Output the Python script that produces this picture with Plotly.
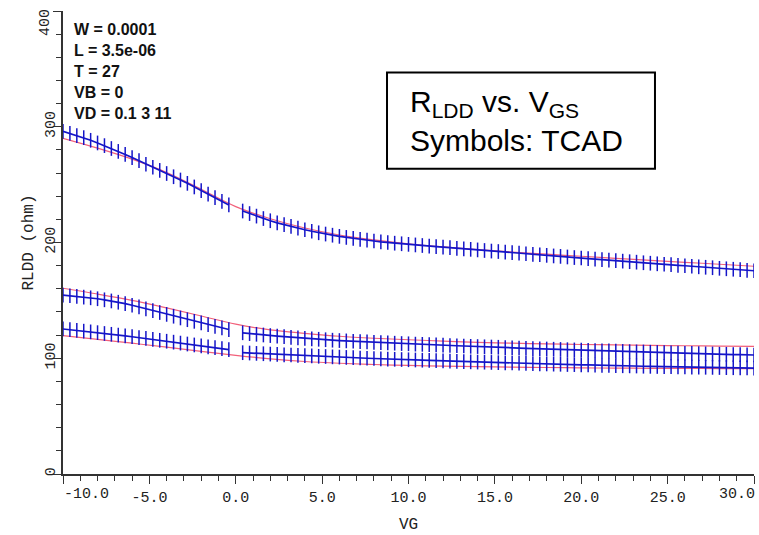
import plotly.graph_objects as go

# ---------------- data ----------------
VG = [round(-10 + 0.4 * i, 1) for i in range(101)]          # TCAD sample grid (V)
VG_MODEL = list(range(-10, 31, 2))                           # model curve grid (V)

TOP_TCAD = [
    296.0, 294.2, 292.4, 290.6, 288.3, 286.0, 283.7, 281.2, 278.7, 276.1,
    273.4, 270.7, 267.6, 265.0, 262.3, 259.6, 256.8, 254.0, 251.1, 248.0,
    244.9, 241.8, 238.7, 235.6, 232.5, None, 227.2, 225.0, 222.8, 220.7,
    218.8, 217.0, 215.4, 213.9, 212.4, 211.0, 209.7, 208.4, 207.3, 206.3,
    205.3, 204.4, 203.5, 202.7, 202.0, 201.3, 200.6, 200.0, 199.4, 198.9,
    198.4, 197.9, 197.4, 196.9, 196.4, 196.0, 195.5, 195.0, 194.5, 194.1,
    193.6, 193.1, 192.6, 192.2, 191.7, 191.3, 190.8, 190.3, 189.8, 189.4,
    188.9, 188.4, 188.0, 187.5, 187.0, 186.6, 186.1, 185.7, 185.2, 184.8,
    184.3, 183.9, 183.4, 183.0, 182.5, 182.1, 181.6, 181.2, 180.8, 180.3,
    179.9, 179.5, 179.0, 178.6, 178.2, 177.7, 177.3, 176.9, 176.5, 176.0,
    175.6]
MID_TCAD = [
    154.5, 154.0, 153.4, 152.8, 152.2, 151.4, 150.5, 149.5, 148.4, 147.2,
    145.8, 144.3, 142.7, 141.1, 139.5, 137.9, 136.3, 134.8, 133.3, 131.9,
    130.5, 129.0, 127.6, 126.2, 124.8, None, 122.0, 121.3, 120.7, 120.1,
    119.6, 119.1, 118.6, 118.1, 117.6, 117.2, 116.8, 116.4, 116.0, 115.6,
    115.3, 115.0, 114.7, 114.4, 114.1, 113.8, 113.5, 113.2, 113.0, 112.7,
    112.5, 112.2, 112.0, 111.7, 111.5, 111.3, 111.0, 110.8, 110.6, 110.3,
    110.1, 109.9, 109.7, 109.5, 109.2, 109.0, 108.8, 108.6, 108.4, 108.2,
    108.0, 107.8, 107.6, 107.4, 107.2, 107.0, 106.8, 106.6, 106.4, 106.3,
    106.1, 105.9, 105.7, 105.5, 105.4, 105.2, 105.0, 104.8, 104.7, 104.5,
    104.3, 104.2, 104.0, 103.8, 103.7, 103.5, 103.4, 103.2, 103.1, 102.9,
    102.8]
LOW_TCAD = [
    125.3, 124.7, 124.1, 123.4, 122.8, 122.1, 121.4, 120.7, 120.0, 119.3,
    118.6, 117.8, 117.1, 116.3, 115.5, 114.7, 113.9, 113.1, 112.3, 111.5,
    110.7, 109.9, 109.1, 108.3, 107.5, None, 104.8, 104.5, 104.2, 103.9,
    103.6, 103.3, 103.0, 102.8, 102.5, 102.2, 102.0, 101.7, 101.5, 101.2,
    101.0, 100.7, 100.5, 100.2, 100.0, 99.8, 99.5, 99.3, 99.1, 98.9,
    98.7, 98.5, 98.3, 98.1, 97.9, 97.7, 97.5, 97.3, 97.1, 96.9,
    96.7, 96.6, 96.4, 96.2, 96.0, 95.9, 95.7, 95.5, 95.4, 95.2,
    95.1, 94.9, 94.8, 94.6, 94.5, 94.3, 94.2, 94.0, 93.9, 93.8,
    93.6, 93.5, 93.4, 93.3, 93.1, 93.0, 92.9, 92.8, 92.7, 92.6,
    92.5, 92.4, 92.3, 92.2, 92.1, 92.0, 91.9, 91.8, 91.7, 91.6,
    91.5]

TOP_MODEL = [290.0, 281.5, 272.0, 260.5, 246.0, 231.0, 220.5, 212.5, 206.5, 202.3, 198.9,
             196.2, 193.9, 191.8, 189.9, 188.1, 186.3, 184.6, 182.9, 181.2, 179.5]
MID_MODEL = [160.5, 155.5, 150.0, 143.5, 136.5, 129.5, 124.5, 121.5, 119.0, 117.3, 116.0,
             114.8, 113.8, 113.0, 112.4, 111.9, 111.5, 111.1, 110.8, 110.5, 110.3]
LOW_MODEL = [119.6, 116.3, 113.0, 109.6, 106.0, 102.5, 99.5, 97.2, 95.7, 94.6, 93.8,
             93.2, 92.7, 92.3, 92.0, 91.7, 91.5, 91.3, 91.2, 91.1, 91.0]

X_TICKVALS = [-10, -5, 0, 5, 10, 15, 20, 25, 30]
X_TICKTEXT = ["", "-5.0", "0.0", "5.0", "10.0", "15.0", "20.0", "25.0", ""]
Y_TICKVALS = [0, 100, 200, 300, 400]
Y_TICKTEXT = ["0", "100", "200", "300", ""]

INFO_LINES = ["W = 0.0001", "L = 3.5e-06", "T = 27", "VB = 0", "VD = 0.1 3 11"]

assert len(TOP_TCAD) == len(MID_TCAD) == len(LOW_TCAD) == len(VG)
assert len(TOP_MODEL) == len(MID_MODEL) == len(LOW_MODEL) == len(VG_MODEL)

# ---------------- styles ----------------
BLUE = "#1515c8"
RED = "#f2607a"
AX = "#333333"
MONO = "Liberation Mono, Courier New, monospace"

fig = go.Figure()

for ys in (TOP_MODEL, MID_MODEL, LOW_MODEL):
    fig.add_trace(go.Scatter(x=VG_MODEL, y=ys, mode="lines", line=dict(color=RED, width=1.2, shape="spline"),
                             showlegend=False, hoverinfo="skip"))

for ys in (TOP_TCAD, MID_TCAD, LOW_TCAD):
    fig.add_trace(go.Scatter(x=VG, y=ys, mode="lines+markers",
                             line=dict(color=BLUE, width=1.7),
                             marker=dict(symbol="line-ns", size=10.5, color=BLUE,
                                         line=dict(color=BLUE, width=1.5)),
                             connectgaps=False, showlegend=False, hoverinfo="skip"))

common_x = dict(range=[-10, 30], showgrid=False, zeroline=False, showline=True,
                linecolor=AX, linewidth=1.5)
common_y = dict(range=[0, 400], showgrid=False, zeroline=False, showline=True,
                linecolor=AX, linewidth=1.5)

fig.update_layout(
    width=759, height=535,
    margin=dict(l=63, r=5, t=11, b=57),
    paper_bgcolor="white", plot_bgcolor="white",
    xaxis=dict(**common_x, tickmode="array", tickvals=X_TICKVALS, ticktext=X_TICKTEXT,
               ticks="outside", ticklen=8, tickcolor=AX, tickwidth=1.2,
               minor=dict(dtick=1, tick0=0, ticks="outside", ticklen=5, tickcolor=AX, tickwidth=1),
               tickfont=dict(family=MONO, size=15, color="#222"),
               title=dict(text="VG", font=dict(family=MONO, size=16, color="#222"), standoff=12)),
    yaxis=dict(**common_y, tickmode="array", tickvals=Y_TICKVALS, ticktext=Y_TICKTEXT,
               ticks="outside", ticklen=8, tickcolor=AX, tickwidth=1.2, tickangle=-90,
               ticklabelstandoff=-8,
               minor=dict(dtick=20, tick0=0, ticks="outside", ticklen=5, tickcolor=AX, tickwidth=1),
               tickfont=dict(family=MONO, size=15, color="#222"),
               title=dict(text="RLDD (ohm)", font=dict(family=MONO, size=16, color="#222"), standoff=6)),
    xaxis2=dict(**common_x, overlaying="x", side="top", anchor="y", showticklabels=False,
                tickmode="linear", dtick=5, tick0=0, ticks="inside", ticklen=7, tickcolor=AX,
                minor=dict(dtick=1, tick0=0, ticks="inside", ticklen=5, tickcolor=AX)),
    yaxis2=dict(**common_y, overlaying="y", side="right", anchor="x", showticklabels=False,
                tickmode="linear", dtick=100, tick0=0, ticks="inside", ticklen=7, tickcolor=AX,
                minor=dict(dtick=20, tick0=0, ticks="inside", ticklen=5, tickcolor=AX)),
)

# end tick labels kept inside the frame, as in the reference
fig.add_annotation(x=X_TICKVALS[0], y=0, xref="x", yref="paper", text="-10.0", showarrow=False,
                   xanchor="left", yanchor="top", yshift=-10, xshift=-1,
                   font=dict(family=MONO, size=15, color="#222"))
fig.add_annotation(x=X_TICKVALS[-1], y=0, xref="x", yref="paper", text="30.0", showarrow=False,
                   xanchor="right", yanchor="top", yshift=-10, xshift=3,
                   font=dict(family=MONO, size=15, color="#222"))
fig.add_annotation(x=0, y=Y_TICKVALS[-1], xref="paper", yref="y", text="400", showarrow=False,
                   textangle=-90, xanchor="right", yanchor="top", xshift=-7, yshift=4,
                   font=dict(family=MONO, size=15, color="#222"))

# parameter block
for i, line in enumerate(INFO_LINES):
    fig.add_annotation(x=0.013, y=0.96 - i * 0.0455, xref="paper", yref="paper",
                       text="<b>" + line + "</b>", showarrow=False, xanchor="left", yanchor="middle",
                       font=dict(family="Liberation Sans, Arial, sans-serif", size=16, color="#111"))

# boxed caption
fig.add_shape(type="rect", xref="paper", yref="paper", x0=0.4689, x1=0.8567, y0=0.6595, y1=0.8672,
              line=dict(color="black", width=2), fillcolor="white", layer="above")
fig.add_annotation(x=0.4993, y=0.7634, xref="paper", yref="paper",
                   text="R<sub>LDD</sub> vs. V<sub>GS</sub><br>Symbols: TCAD",
                   showarrow=False, xanchor="left", yanchor="middle", align="left",
                   font=dict(family="Liberation Sans, Arial, sans-serif", size=30, color="black"))

fig.write_html("out.html")
